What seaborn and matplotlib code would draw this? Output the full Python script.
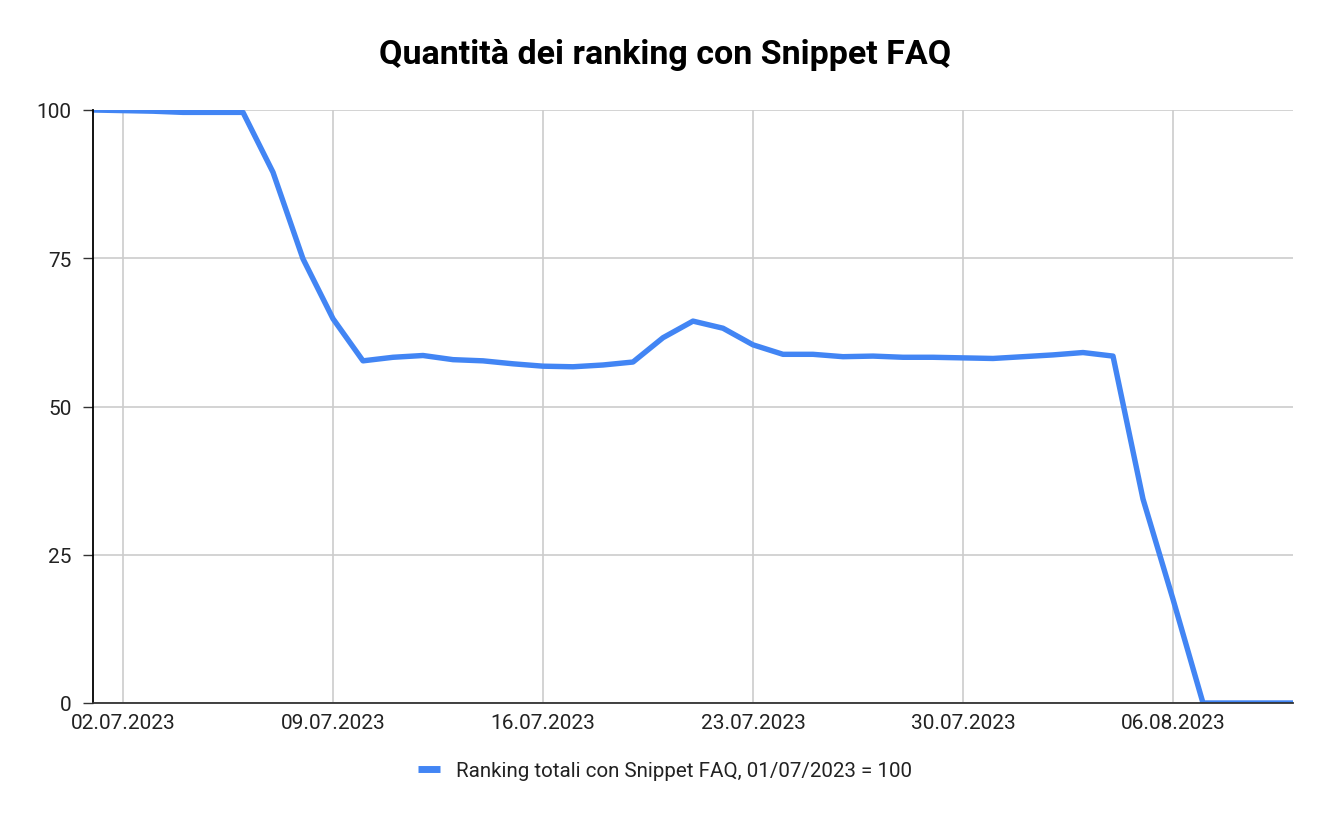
import matplotlib
matplotlib.use("Agg")
import matplotlib.pyplot as plt
import matplotlib.dates as mdates
import seaborn as sns
import pandas as pd

start_date = "2023-07-01"
values = [100.0, 99.9, 99.8, 99.6, 99.6, 99.6, 89.5, 74.9, 64.8, 57.7,
          58.3, 58.6, 57.9, 57.7, 57.2, 56.8, 56.7, 57.0, 57.5, 61.6,
          64.4, 63.2, 60.4, 58.8, 58.8, 58.4, 58.5, 58.3, 58.3, 58.2,
          58.1, 58.4, 58.7, 59.1, 58.5, 34.4, 17.5, 0.0, 0.0, 0.0, 0.0]
dates = pd.date_range(start_date, periods=len(values), freq="D")
tick_dates = ["2023-07-02", "2023-07-09", "2023-07-16", "2023-07-23", "2023-07-30", "2023-08-06"]
yticks = [0, 25, 50, 75, 100]
series_label = "Ranking totali con Snippet FAQ, 01/07/2023 = 100"
title = "Quantità dei ranking con Snippet FAQ"

df = pd.DataFrame({"date": dates, "value": values, "serie": series_label})

sns.set_theme(style="white")
plt.rcParams["font.family"] = ["Roboto", "DejaVu Sans"]

fig = plt.figure(figsize=(13.3, 8.2), dpi=100)
ax = fig.add_axes([93/1330, 1 - 704/820, 1200/1330, 593/820])

sns.lineplot(data=df, x="date", y="value", hue="serie", palette=["#4285F4"],
             linewidth=3.9, ax=ax, legend=True)

ax.set_xlim(dates[0], dates[-1])
ax.set_ylim(0, 100)
ax.set_yticks(yticks)
ax.set_yticklabels([str(t) for t in yticks])
ax.set_xticks(pd.to_datetime(tick_dates))
ax.xaxis.set_major_formatter(mdates.DateFormatter("%d.%m.%Y"))

ax.grid(True, color="#cccccc", linewidth=1.2)
ax.set_axisbelow(True)
for s in ["top", "right"]:
    ax.spines[s].set_visible(False)
ax.spines["left"].set_color("#000000")
ax.spines["left"].set_linewidth(1.3)
ax.spines["bottom"].set_color("#333333")
ax.spines["bottom"].set_linewidth(1.3)

ax.tick_params(axis="y", length=7.5, width=1.0, color="#333333", pad=8,
               labelsize=15, labelcolor="#222222", left=True)
ax.tick_params(axis="x", length=0, pad=7, labelsize=15, labelcolor="#222222")
ax.set_xlabel("")
ax.set_ylabel("")

fig.suptitle(title, x=0.5, y=1 - 55/820, va="center", fontsize=24.5, fontweight="bold",
             color="#000000")

leg = ax.legend(loc="center", bbox_to_anchor=(0.5, 1 - 772/820), bbox_transform=fig.transFigure,
                frameon=False, fontsize=14.8, handlelength=1.05, handletextpad=0.8)
for line in leg.get_lines():
    line.set_linewidth(5)
    line.set_solid_capstyle("butt")
for t in leg.get_texts():
    t.set_color("#222222")

fig.savefig("out.png", dpi=100)
